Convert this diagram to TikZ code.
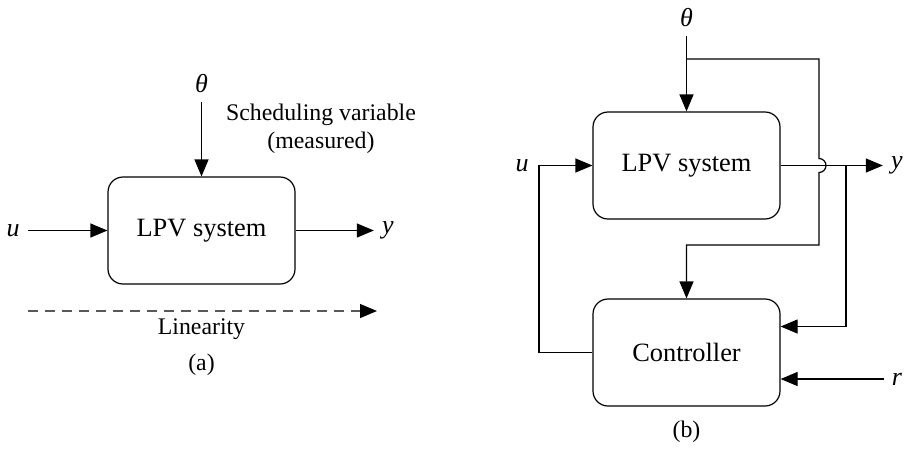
\documentclass[tikz,border=0pt]{standalone}
\usepackage{fontspec}
\setmainfont{Liberation Serif}
\usetikzlibrary{arrows.meta, positioning, calc}

\begin{document}
\begin{tikzpicture}[x=0.5pt, y=-0.5pt,
  block/.style={draw, rounded corners=7.5pt, line width=0.6pt, minimum width=93.5pt, minimum height=53.5pt, font=\fontsize{13.2}{15}\selectfont},
  sig/.style={inner sep=4pt, font=\fontsize{13}{15}\selectfont\itshape},
  note/.style={align=center, font=\fontsize{11.9}{14}\selectfont},
  feed/.style={line width=0.6pt, -{Triangle[length=8.5pt, width=7pt]}}]
  \useasboundingbox (0,0) rectangle (908,451);

  % (a) open loop
  \node[block] (sysA) at (201.5,230.5) {LPV system};
  \node[sig] (uA) at (13,230.5) {u};
  \node[sig] (yA) at (388,230.5) {y};
  \node[sig] (thA) at (201.5,84) {θ};
  \node[note] (schedA) at (321,129) {Scheduling variable\\(measured)};
  \coordinate (linL) at (28,311);
  \coordinate (linR) at (377,311);
  \node[note] (linA) at (201.5,329) {Linearity};
  \node[note] (capA) at (201.5,365) {(a)};

  \draw[feed] (uA.east) -- (sysA.west);
  \draw[feed] (sysA.east) -- (yA.west);
  \draw[feed] (thA.south) -- (sysA.north);
  \draw[draw=black!65, line width=0.6pt, dash pattern=on 5pt off 3.5pt,
    -{Triangle[length=8.5pt, width=7pt, black]}] (linL) -- (linR);

  % (b) closed loop
  \node[block] (sysB) at (686.5,165.5) {LPV system};
  \node[block] (ctrlB) at (686.5,352.5) {Controller};
  \node[sig] (thB) at (686.5,18) {θ};
  \node[sig] (uB) at (522,165.5) {u};
  \node[sig] (yB) at (897,165.5) {y};
  \node[sig] (rB) at (897,379) {r};
  \node[note] (capB) at (686.5,432) {(b)};
  \coordinate (tapTh) at (686.5,59);
  \coordinate (jump) at (819,165.5);
  \coordinate (retTh) at (819,245);
  \coordinate (tapY) at (846,165.5);
  \coordinate (fbL) at (539,352.5);

  \draw[feed] (thB.south) -- (sysB.north);
  \draw[feed] (tapTh) -| ($(jump)+(0,-7)$) arc[start angle=-90, end angle=90, radius=7]
    -- (retTh) -| (ctrlB.north);
  \draw[feed] (sysB.east) -- (yB.west);
  \draw[feed] (tapY) |- ($(ctrlB.east)+(0,-26)$);
  \draw[feed] (rB.west) -- (rB.west -| ctrlB.east);
  \draw[feed] (ctrlB.west) -- (fbL) |- (sysB.west);
\end{tikzpicture}
\end{document}
